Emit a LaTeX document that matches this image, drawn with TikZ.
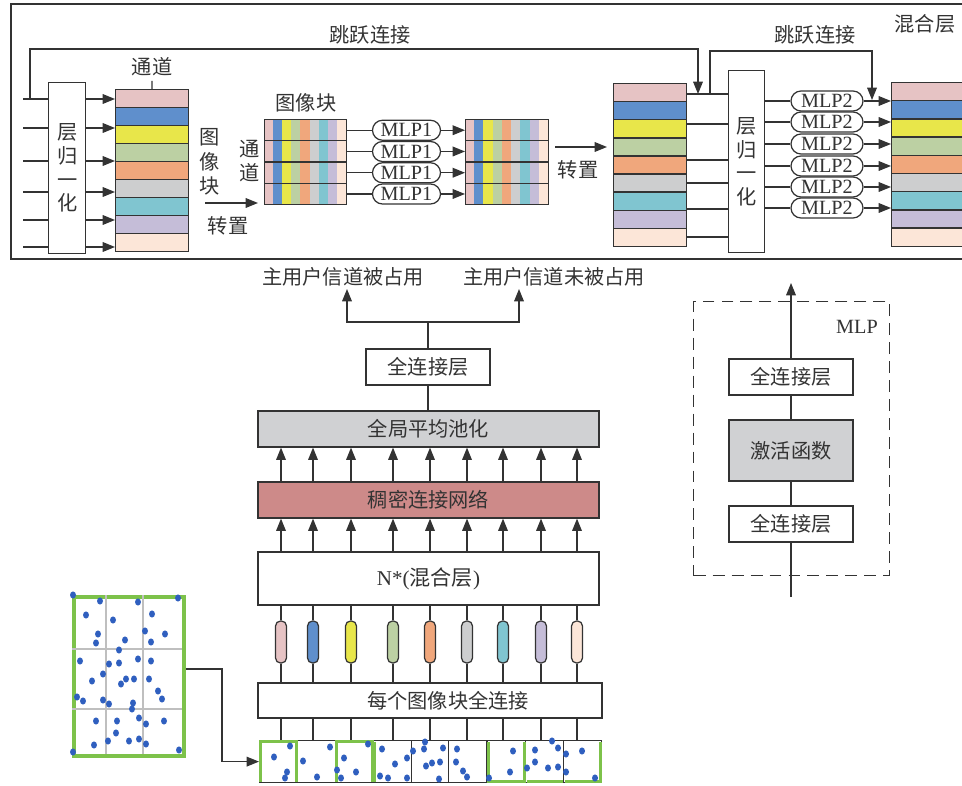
\documentclass[tikz,border=0pt]{standalone}
\usepackage{fontspec}
\setmainfont{Liberation Serif}
\newfontfamily\cjk{Noto Sans CJK SC}
\usetikzlibrary{positioning,arrows.meta,shapes.misc}

\newlength\pu
\setlength\pu{0.02cm}

\definecolor{cpink}{HTML}{E6C3C4}
\definecolor{cblue}{HTML}{5F8FCC}
\definecolor{cyellow}{HTML}{E8E64A}
\definecolor{cgreen}{HTML}{BCD0A3}
\definecolor{corange}{HTML}{F0A77C}
\definecolor{cgray}{HTML}{CDCECF}
\definecolor{cteal}{HTML}{80C5D0}
\definecolor{clav}{HTML}{C5BDD8}
\definecolor{cpeach}{HTML}{FCE6D8}
\definecolor{cpool}{HTML}{D0D1D3}
\definecolor{cdense}{HTML}{CD8A89}
\definecolor{cdot}{HTML}{2F5FBF}
\definecolor{cgrn}{HTML}{7DC24A}

\def\chancolors{cpink,cblue,cyellow,cgreen,corange,cgray,cteal,clav,cpeach}
\def\colxs{281,313,351,393,430,467,503,541,577}

\tikzset{
  txt/.style={font=\cjk\fontsize{11.5}{13}\selectfont, inner sep=0pt},
  vtxt/.style={txt, align=center, font=\cjk\fontsize{11.5}{13.8}\selectfont},
  blk/.style={draw, fill=white, inner sep=0pt, font=\cjk\fontsize{11.5}{13}\selectfont},
  lnbox/.style={draw, fill=white, inner sep=0pt, anchor=north west, align=center,
    font=\cjk\fontsize{11.5}{13.4}\selectfont},
  cell/.style={draw, inner sep=0pt, minimum height=18\pu, anchor=north west},
  rowbox/.style={draw, inner sep=0pt, minimum height=21.25\pu, anchor=north west},
  mlp/.style={draw, fill=white, rounded rectangle, inner sep=0pt, minimum width=68\pu,
    minimum height=20\pu, font=\fontsize{11.5}{12}\selectfont},
  pill/.style={draw, inner sep=0pt, rounded corners=5\pu, minimum width=11\pu, minimum height=42\pu},
  patchbox/.style={draw, fill=white, inner sep=0pt, minimum width=38\pu, minimum height=42\pu, anchor=north west},
  grn/.style={cgrn, line width=2pt},
  arr/.style={-{Triangle[length=7pt,width=5.5pt]}},
}

\begin{document}
\begin{tikzpicture}[x=0.02cm, y=-0.02cm, line width=0.7pt, color=black!80]
\useasboundingbox (0,0) rectangle (962,786);

% ---- mixing layer (top) ----
\node[draw, line width=0.9pt, anchor=north west, inner sep=0pt, minimum width=966\pu, minimum height=255\pu] (mixframe) at (10,3) {};
\node[txt] (mixtitle) at (925,24) {混合层};
\node[txt] (skiptxtA) at (370,35) {跳跃连接};
\node[txt] (skiptxtB) at (815,35) {跳跃连接};

% layer norm 1 and channel column
\node[lnbox, minimum width=37\pu, minimum height=171\pu] (lnA) at (48,82) {层\\归\\一\\化};
\foreach \cc [count=\i] in \chancolors
  \node[cell, fill=\cc, minimum width=73\pu] (colA-\i) at (115,{89+18*(\i-1)}) {};
\node[txt] (chanA) at (152,67) {通道};
\draw (chanA.south) ++(0,4) -- (colA-1.north);
\foreach \y in {99,128,161,192,220,247}{
  \draw (lnA.west |- 0,\y) -- ++(-25,0);
  \draw[arr] (lnA.east |- 0,\y) -- (colA-1.west |- 0,\y);
}

% transpose to patches
\node[vtxt] (patchtxtA) at (210,162) {图\\像\\块};
\foreach \r in {1,...,4}{
  \foreach \cc [count=\j] in \chancolors{
    \fill[\cc] ({264+9.11*(\j-1)},{119+21.25*(\r-1)}) rectangle ++(9.11,21.25);
    \fill[\cc] ({465+9.22*(\j-1)},{119+21.25*(\r-1)}) rectangle ++(9.22,21.25);
  }
  \node[rowbox, minimum width=82\pu] (matA-\r) at (264,{119+21.25*(\r-1)}) {};
  \node[rowbox, minimum width=83\pu] (matB-\r) at (465,{119+21.25*(\r-1)}) {};
}
\node[txt] (patchtxtB) at (306,103) {图像块};
\node[vtxt] (chanB) at (250,161) {通\\道};
\coordinate (trA) at (205,203);
\draw[arr, shorten >=6\pu] (trA) -- (trA -| matA-4.west);
\node[txt] (trtxtA) at (228,226) {转置};

% token mixing MLPs
\foreach \r in {1,...,4}{
  \node[mlp] (mlpA-\r) at (matA-\r.center -| 406.5,0) {MLP1};
  \draw (matA-\r.east) -- (mlpA-\r.west);
  \draw[arr] (mlpA-\r.east) -- (matB-\r.west);
}
\coordinate (trB) at (555,147);
\node[txt] (trtxtB) at (578,170) {转置};

% channel column 2, layer norm 2
\foreach \cc [count=\i] in \chancolors
  \node[cell, fill=\cc, minimum width=73\pu] (colB-\i) at (613,{83+18.1*(\i-1)}) {};
\draw[arr, shorten >=6\pu] (trB) -- (trB -| colB-1.west);
\node[lnbox, minimum width=36\pu, minimum height=182\pu] (lnB) at (728,70) {层\\归\\一\\化};
\foreach \y in {94,124,160,183,209,237}
  \draw (colB-1.east |- 0,\y) -- (lnB.west |- 0,\y);

% channel column 3
\foreach \cc [count=\i] in \chancolors
  \node[cell, fill=\cc, minimum width=85\pu] (colC-\i) at (891,{82+18.2*(\i-1)}) {};

% channel mixing MLPs
\foreach \y [count=\k] in {101,122,144,166,187,208}{
  \node[mlp, minimum width=72\pu] (mlpB-\k) at (827,\y) {MLP2};
  \draw (lnB.east |- mlpB-\k) -- (mlpB-\k.west);
  \draw[arr] (mlpB-\k.east) -- (mlpB-\k.east -| colC-1.west);
}

% skip connections
\coordinate (skipA) at (30,99);
\coordinate (joinA) at (698,94);
\draw[arr] (skipA) -- (skipA |- 0,49) -| (joinA);
\coordinate (skipB) at (710,94);
\coordinate (joinB) at (872,100);
\draw[arr] (skipB) -- (skipB |- 0,51) -| (joinB);

% ---- classifier (bottom) ----
\node[txt] (occ) at (343,277) {主用户信道被占用};
\node[txt] (free) at (554,277) {主用户信道未被占用};
\node[blk, minimum width=124\pu, minimum height=36\pu] (fcout) at (428,367) {全连接层};
\node[blk, fill=cpool, minimum width=341\pu, minimum height=36\pu] (gap) at (428.5,429) {全局平均池化};
\node[blk, fill=cdense, minimum width=341\pu, minimum height=36\pu] (dense) at (428.5,500) {稠密连接网络};
\node[blk, minimum width=341\pu, minimum height=53\pu, font=\fontsize{12}{13}\selectfont] (mixer) at (428.5,578.5) {N*({\cjk 混合层})};
\node[blk, minimum width=344\pu, minimum height=35\pu] (tokfc) at (430,700.5) {\hspace*{36\pu}每个图像块全连接};

\coordinate (split) at (fcout.north |- 0,322);
\draw (fcout.north) -- (split);
\draw[arr, shorten >=2\pu] (split) -| ([xshift=4\pu]occ.south);
\draw[arr, shorten >=2\pu] (split) -| ([xshift=-35\pu]free.south);
\draw (fcout.south) -- (fcout.south |- gap.north);

\foreach \x in \colxs{
  \draw[arr] (dense.north -| \x,0) -- (gap.south -| \x,0);
  \draw[arr] (mixer.north -| \x,0) -- (dense.south -| \x,0);
}

% patches
\foreach \x [count=\i] in {259,297,335,373,411,448,487,525,563}
  \node[patchbox] (patch-\i) at (\x,740) {};
\draw[grn] ([shift={(1.5,-1.5)}]patch-1.south west) |- ([shift={(-1.5,1.5)}]patch-1.north east) -- ([shift={(-1.5,-1.5)}]patch-1.south east);
\draw[grn] ([shift={(1.5,-1.5)}]patch-3.south west) |- ([shift={(-1.5,1.5)}]patch-3.north east) -- ([shift={(-1.5,-1.5)}]patch-3.south east);
\draw[grn] ([shift={(1.5,1.5)}]patch-4.north west) -- ([shift={(1.5,-1.5)}]patch-4.south west);
\draw[grn] ([shift={(1.5,1.5)}]patch-7.north west) |- ([shift={(-1.5,-1.5)}]patch-7.south east) -- ([shift={(-1.5,1.5)}]patch-7.north east);
\draw[grn] ([shift={(1.5,-1.5)}]patch-8.south west) -- ([shift={(-1.5,-1.5)}]patch-8.south east);
\draw[grn] ([shift={(1.5,-1.5)}]patch-9.south west) -| ([shift={(-1.5,1.5)}]patch-9.north east);
\foreach \a/\b in {290/746,274/757,287/772,285/778, 330/747,303/761,317/777,
  368/744,344/758,337/770,356/772,341/778, 382/749,407/758,395/764,380/776,388/778,407/778,
  413/751,424/749,426/766,432/763,440/762,443/748,439/779,425/742,
  457/749,456/762,463/771,467/777, 513/751,510/772,489/778,
  535/750,558/748,535/762,527/768,548/768,558/767,552/741,
  582/751,566/754,566/772,595/778}
  \fill[cdot] (\a,\b) ellipse[x radius=3\pu, y radius=3.6\pu];

% pills and links
\foreach \x/\cc [count=\i] in {281/cpink,313/cblue,351/cyellow,393/cgreen,430/corange,467/cgray,503/cteal,541/clav,577/cpeach}{
  \node[pill, fill=\cc] (pill-\i) at (\x,642) {};
  \draw (mixer.south -| pill-\i) -- (pill-\i.north);
  \draw (pill-\i.south) -- (tokfc.north -| pill-\i);
  \draw (tokfc.south -| pill-\i) -- (pill-\i |- patch-1.north);
}

% spectrum image
\node[draw=cgrn, line width=2.2pt, inner sep=0pt, minimum width=110\pu, minimum height=159\pu, anchor=north west] (scan) at (72,595) {};
\draw[gray!50, line width=0.6pt] (106,595) -- (106,754) (143,595) -- (143,754) (72,649) -- (182,649) (72,709) -- (182,709);
\foreach \a/\b in {100/601,138/602,178/598,73/595, 86/615,113/620,152/614,
  98/634,96/643,125/640,145/631,151/642,165/634, 119/650,
  80/661,109/664,119/663,138/659,151/661,
  103/674,92/681,126/679,134/679,121/684,149/679,158/691,
  77/697,83/701,103/700,109/704,133/703,132/709,162/699,
  96/721,117/721,139/718,146/724,164/721,
  116/733,108/741,94/745,129/741,139/739,146/744, 73/752,179/750}
  \fill[cdot] (\a,\b) ellipse[x radius=3\pu, y radius=3.6\pu];
\draw[arr] (scan.east |- 0,669) -- (222,669) |- (patch-1.west);

% ---- MLP detail ----
\node[draw, dash pattern=on 6.8pt off 4pt, inner sep=0pt, minimum width=196\pu, minimum height=274\pu, anchor=north west] (mlpframe) at (693,301) {};
\node[inner sep=0pt, font=\fontsize{11.5}{13}\selectfont] (mlptitle) at (857,327) {MLP};
\node[blk, minimum width=124\pu, minimum height=36\pu] (fcup) at (791,377) {全连接层};
\node[blk, fill=cpool, minimum width=124\pu, minimum height=61\pu] (act) at (791,450.5) {激活函数};
\node[blk, minimum width=124\pu, minimum height=36\pu] (fclow) at (791,524) {全连接层};
\coordinate (mlpin) at (791,597);
\coordinate (mlpout) at (791,283);
\draw (mlpin) -- (fclow.south);
\draw (fclow.north) -- (act.south);
\draw (act.north) -- (fcup.south);
\draw[arr] (fcup.north) -- (mlpout);

\end{tikzpicture}
\end{document}
